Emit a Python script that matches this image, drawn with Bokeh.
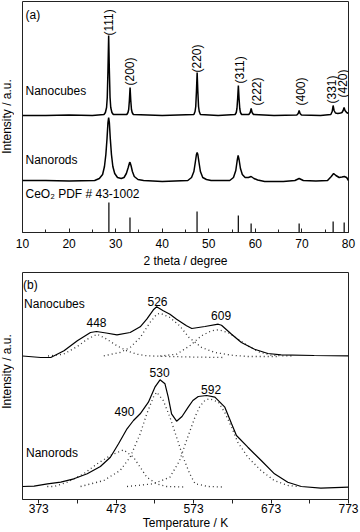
from math import pi
from bokeh.plotting import figure
from bokeh.layouts import column, row
from bokeh.models import FixedTicker, Label, Range1d, ColumnDataSource
from bokeh.core.properties import value
from bokeh.embed import file_html
from bokeh.resources import INLINE

FONT = "Liberation Sans"

# ---------------- (a) XRD data ----------------
cubes_2theta = [10, 15, 20, 25, 27.5, 27.8, 28.05, 28.2, 28.35, 28.5, 28.65, 28.8, 28.95, 29.2, 29.5, 32.4, 32.65,
                32.8, 32.95, 33.1, 33.25, 33.4, 33.55, 33.8, 40, 46.8, 47.05, 47.2, 47.35, 47.5, 47.65, 47.8, 47.95,
                48.2, 52, 55.65, 55.9, 56.05, 56.2, 56.35, 56.5, 56.65, 56.8, 57.05, 58.6, 58.9, 59.1, 59.3, 59.6,
                64, 68.9, 69.2, 69.4, 69.6, 69.9, 74, 76.2, 76.5, 76.7, 76.9, 77.2, 77.7, 78.3, 78.6, 78.85, 79.05,
                79.25, 79.6, 80]
cubes_int = [0, 0, 0.5, 0, 1, 3, 8, 18, 45, 80, 45, 18, 8, 3, 1, 1, 3,
             6, 15, 28, 15, 6, 3, 1, 0, 1, 4, 9, 24, 43, 24, 9, 4,
             1, 0, 1, 3, 7, 17, 30, 17, 7, 3, 1, 1, 3, 7, 3, 1,
             0, 0.5, 2, 5, 2, 0.5, 0, 1, 4, 10, 5, 2.5, 2, 2.5, 3, 5, 8,
             5, 3, 2]

rods_2theta = [10, 15, 20, 25.5, 26.5, 27.2, 27.6, 27.9, 28.15, 28.35, 28.5, 28.65, 28.85, 29.1, 29.4, 29.8, 30.4,
               31.2, 31.8, 32.3, 32.7, 33.0, 33.1, 33.3, 33.6, 34.0, 34.8, 36, 40, 45.5, 46.3, 46.8, 47.1, 47.35,
               47.5, 47.65, 47.9, 48.2, 48.7, 49.5, 50.5, 54.5, 55.3, 55.8, 56.1, 56.3, 56.5, 56.8, 57.2, 57.8,
               58.5, 59.1, 59.7, 60.5, 62, 66, 68.5, 69.4, 70.3, 73, 75.5, 76.3, 76.8, 77.3, 78.0, 78.6, 79.1,
               79.6, 80]
rods_int = [0, 0, -0.5, 0, 2, 6, 14, 26, 42, 58, 63, 58, 42, 26, 14, 7, 3,
            2, 3, 7, 13, 18, 18, 15, 9, 4, 1, 0, -1, 0, 3, 9, 18, 26,
            28, 26, 18, 9, 3, 1, 0, 0, 3, 10, 20, 25, 21, 12, 6, 3,
            3, 4, 2, 0.5, -1, -1, 0, 2, 0, -0.5, 0, 4, 7, 5, 3, 3.5, 4,
            3, 0]

ref_2theta = [28.55, 33.08, 47.48, 56.34, 59.09, 69.40, 76.70, 79.07]
ref_int = [30, 15, 21, 17, 9, 9, 11, 10]

hkl_labels = ["(111)", "(200)", "(220)", "(311)", "(222)", "(400)", "(331)", "(420)"]
hkl_label_x = [28.67, 33.12, 47.55, 56.6, 60.27, 69.82, 76.4, 78.88]
hkl_label_y = [197, 147, 160, 149, 127, 127, 129, 135]

CUBES_OFFSET = 117
RODS_OFFSET = 52

# ---------------- (b) H2-TPR data ----------------
tpr_cubes_T = [352, 375.7, 388.5, 405.6, 422.8, 439.8, 447.5, 460, 474, 491, 504, 512.5, 521, 525.3, 533.8, 542.4,
               551, 563.8, 570.6, 587.6, 604.8, 609, 622, 634.7, 651.7, 668.9, 686, 728.7, 773]
tpr_cubes = [143.5, 142, 142, 148.7, 158.7, 167, 168, 166.5, 164.7, 167, 172.7, 180.3, 189.7, 192.7, 188.7, 185.3,
             180.3, 173.7, 171, 173, 175.3, 174.3, 165.3, 157, 150.3, 146, 144.7, 144, 143.7]

cubes_c1_T = [385, 405, 422.8, 435.6, 448.4, 461, 474, 486.9, 499.7, 512.5, 540, 570, 612]
cubes_c1 = [143.5, 145.3, 153, 160.3, 165.3, 160.3, 153.7, 148.7, 145.3, 143.7, 143, 142.5, 142]
cubes_c2_T = [457, 478, 491, 504, 516.7, 525.3, 529.6, 542.4, 555, 567, 583.4, 600.5, 622, 643, 682]
cubes_c2 = [143.7, 147, 152, 162, 177, 185.3, 186.3, 182, 173.7, 162, 152, 147, 144.3, 143, 143]
cubes_c3_T = [530, 551, 568, 583, 596, 604.8, 617.6, 630.4, 643, 656, 673, 686, 700]
cubes_c3 = [143.5, 145.3, 153.7, 163.7, 168.7, 169.7, 167, 160.3, 153.7, 148, 144.3, 143.7, 143.5]

tpr_rods_T = [352, 367, 384.3, 401.4, 418.4, 435.6, 452.6, 465.5, 476, 487, 495.3, 504, 514.6, 523, 529.6, 536,
              540.2, 544.5, 551, 558, 566, 572, 579, 589.8, 600.5, 613.3, 622, 628.3, 643, 660.3, 677.4, 694.6,
              712, 737.3, 773]
tpr_rods = [13, 13.3, 15.7, 17.3, 20.7, 25.7, 33, 42.3, 55.7, 70.7, 79, 85.7, 97.3, 112.3, 119.7, 115.7,
            102.3, 85.7, 78.3, 83, 92.3, 99, 103, 104, 102.3, 92.3, 75.7, 64, 52.3, 39, 25.7, 17.3,
            13, 11.3, 12.3]

rods_c1_T = [384, 392.8, 410, 431, 448.4, 465.5, 482.5, 495.3, 504, 512.5, 525.3, 538, 560]
rods_c1 = [13, 13, 17.3, 25.7, 35.7, 44, 49.7, 42.3, 32.3, 22.3, 15.7, 13, 12.5]
rods_c2_T = [427, 457, 478, 491, 504, 512.5, 521, 525.3, 533.8, 542.4, 551, 559.4, 568, 575, 592, 610]
rods_c2 = [13, 19, 29, 42.3, 65.7, 85.7, 102.3, 107.3, 99, 82.3, 62.3, 42.3, 25.7, 15.7, 13, 12.5]
rods_c3_T = [487, 521, 542.4, 555, 562, 568, 575, 581, 588, 594, 605, 613, 622, 630, 643, 660, 677, 695, 710]
rods_c3 = [13, 15.7, 22.3, 39, 55, 68, 83, 93, 99.5, 100.7, 97.3, 87.3, 72.3, 57.3, 42.3, 29, 19, 14, 12.8]

peak_labels = ["448", "526", "609", "530", "490", "592"]
peak_label_T = [447.6, 526.3, 608.5, 529, 483.6, 595.6]
peak_label_y = [177, 197.7, 184.3, 127.3, 88.3, 109.7]

y_title = "Intensity / a.u."


def style_axes(p):
    p.grid.visible = False
    p.yaxis.visible = False
    p.outline_line_color = "#222222"
    p.outline_line_width = 1
    ax = p.xaxis[0]
    ax.axis_line_color = "#222222"
    ax.major_label_text_font = FONT
    ax.major_label_text_font_size = "12px"
    ax.major_label_text_color = "black"
    ax.axis_label_text_font = FONT
    ax.axis_label_text_font_size = "12px"
    ax.axis_label_text_font_style = "normal"
    ax.axis_label_text_color = "black"
    ax.major_tick_line_color = "#222222"
    ax.minor_tick_line_color = "#222222"


# ---------------- strip holding the two vertical axis titles ----------------
side = figure(width=14, height=532, output_backend="svg", toolbar_location=None,
              x_range=Range1d(0, 14), y_range=Range1d(0, 532),
              min_border_left=0, min_border_right=0, min_border_top=0, min_border_bottom=0)
side.axis.visible = False
side.grid.visible = False
side.outline_line_color = None
for yc in (416, 161):
    side.add_layout(Label(x=6.5, y=yc, text=y_title, angle=pi / 2, text_align="center",
                          text_baseline="middle", text_font=FONT, text_font_size="12px",
                          text_color="black"))

# ---------------- figure (a) ----------------
pa = figure(width=346, height=270, output_backend="svg", toolbar_location=None,
            x_range=Range1d(10, 80), y_range=Range1d(0, 231),
            min_border_left=8, min_border_right=8, min_border_top=1, min_border_bottom=38)
style_axes(pa)
pa.xaxis.ticker = FixedTicker(ticks=[10, 20, 30, 40, 50, 60, 70, 80],
                              minor_ticks=[15, 25, 35, 45, 55, 65, 75])
pa.xaxis.axis_label = "2 theta / degree"
pa.xaxis.major_tick_in = 4
pa.xaxis.major_tick_out = 0
pa.xaxis.minor_tick_in = 3
pa.xaxis.minor_tick_out = 0
pa.xaxis.major_label_standoff = 6
pa.xaxis.axis_label_standoff = 3

pa.line(cubes_2theta, [v + CUBES_OFFSET for v in cubes_int], line_color="black", line_width=1.5)
pa.line(rods_2theta, [v + RODS_OFFSET for v in rods_int], line_color="black", line_width=1.5)
pa.segment(x0=ref_2theta, y0=[0] * len(ref_2theta), x1=ref_2theta, y1=ref_int, line_color="black", line_width=1.2)

src_hkl = ColumnDataSource(dict(x=hkl_label_x, y=hkl_label_y, t=hkl_labels))
pa.text(x="x", y="y", text="t", source=src_hkl, angle=pi / 2, text_align="left", text_baseline="middle",
        text_font=value(FONT), text_font_size=value("12px"), text_color="black")

for txt, x, y in [("(a)", 10.64, 218), ("Nanocubes", 10.64, 142), ("Nanorods", 10.64, 73),
                  ("CeO\u2082 PDF # 43-1002", 10.64, 39)]:
    pa.add_layout(Label(x=x, y=y, text=txt, text_align="left", text_baseline="middle",
                        text_font=FONT, text_font_size="12px", text_color="black"))

# ---------------- figure (b) ----------------
pb = figure(width=346, height=262, output_backend="svg", toolbar_location=None,
            x_range=Range1d(352, 773), y_range=Range1d(0, 227),
            min_border_left=6, min_border_right=12, min_border_top=2, min_border_bottom=33)
style_axes(pb)
pb.xaxis.ticker = FixedTicker(ticks=[373, 473, 573, 673, 773], minor_ticks=[423, 523, 623, 723])
pb.xaxis.axis_label = "Temperature / K"
pb.xaxis.major_tick_in = 0
pb.xaxis.major_tick_out = 4
pb.xaxis.minor_tick_in = 0
pb.xaxis.minor_tick_out = 4
pb.xaxis.major_label_standoff = 0
pb.xaxis.axis_label_standoff = 0

DOT = dict(line_color="#333333", line_width=1.3, line_dash="1 3")
for xs, ys in [(cubes_c1_T, cubes_c1), (cubes_c2_T, cubes_c2), (cubes_c3_T, cubes_c3),
               (rods_c1_T, rods_c1), (rods_c2_T, rods_c2), (rods_c3_T, rods_c3)]:
    pb.line(xs, ys, **DOT)
pb.line(tpr_cubes_T, tpr_cubes, line_color="black", line_width=1.2)
pb.line(tpr_rods_T, tpr_rods, line_color="black", line_width=1.2)

src_pk = ColumnDataSource(dict(x=peak_label_T, y=peak_label_y, t=peak_labels))
pb.text(x="x", y="y", text="t", source=src_pk, text_align="center", text_baseline="middle",
        text_font=value(FONT), text_font_size=value("12px"), text_color="black")
for txt, x, y in [("(b)", 352.6, 215), ("Nanocubes", 354, 195.3), ("Nanorods", 356.5, 46.3)]:
    pb.add_layout(Label(x=x, y=y, text=txt, text_align="left", text_baseline="middle",
                        text_font=FONT, text_font_size="12px", text_color="black"))

layout = row(side, column(pa, pb, spacing=0), spacing=0)

open("out.html", "w").write(file_html(layout, INLINE))
